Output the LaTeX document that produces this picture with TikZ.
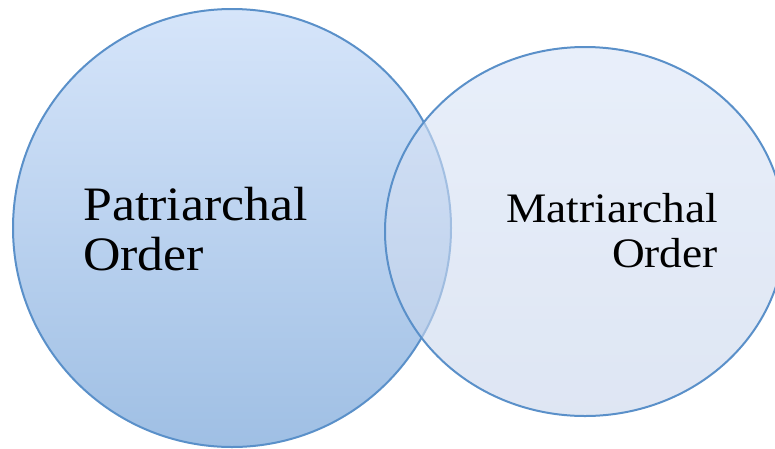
\documentclass[tikz,border=0pt]{standalone}
\usepackage{fontspec}
\setmainfont[FakeStretch=1.08]{Liberation Serif}
\usepackage{xcolor}
\usepackage{tikz}
\usetikzlibrary{shapes.geometric,positioning}
\definecolor{rim}{HTML}{5A90C9}
\definecolor{patrtop}{HTML}{D6E5FA}
\definecolor{patrbot}{HTML}{9FBFE4}
\definecolor{matrtop}{HTML}{D9E4F7}
\definecolor{matrbot}{HTML}{C8D5EB}
\tikzset{
  VennSet/.style={
    draw=rim, line width=2pt,
    inner sep=0pt, outer sep=0pt
  },
  SetLabel/.style={
    text=black, inner sep=0pt,
    font=\fontsize{48}{50}\selectfont
  }
}

\begin{document}
\begin{tikzpicture}[x=1pt, y=-1pt, line cap=round, line join=round]
  \clip (0,0) rectangle (775,448);

  % the two sets
  \node[VennSet, circle, minimum size=438pt,
        top color=patrtop, bottom color=patrbot] (patr) at (232,228) {};
  \node[VennSet, ellipse, minimum width=400pt, minimum height=369pt,
        top color=matrtop, bottom color=matrbot, fill opacity=0.6] (matr) at (585,231.5) {};

  % labels (base = baseline of the last line)
  \node[SetLabel, anchor=base west, align=left] (patrtext) at (83,270)
    {Patriarchal\\Order};
  \node[SetLabel, anchor=base east, align=right,
        font=\fontsize{42}{44.5}\selectfont] (matrtext) at (718,267)
    {Matriarchal\\Order};
\end{tikzpicture}
\end{document}
